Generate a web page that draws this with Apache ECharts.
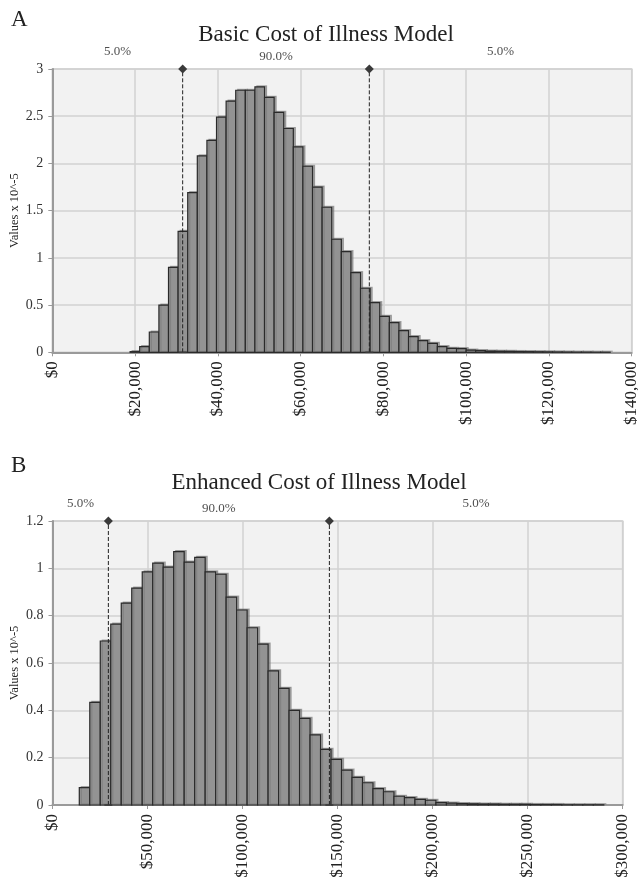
<!DOCTYPE html>
<html><head><meta charset="utf-8">
<script src="https://cdn.jsdelivr.net/npm/echarts@6/dist/echarts.min.js"></script>
<style>html,body{margin:0;padding:0;background:#fff}#c{width:638px;height:882px}</style>
</head><body><div id="c"></div>
<script>
// ---- data ----
const panelLabels = ['A', 'B'];
const titles = ['Basic Cost of Illness Model', 'Enhanced Cost of Illness Model'];
const yAxisName = 'Values x 10^-5';
const pctLabels = ['5.0%', '90.0%', '5.0%'];

// Panel A histogram (values x 10^-5)
const binStartA = 18800;
const binWidthA = 2320;
const valuesA = [0.007, 0.06, 0.215, 0.50, 0.90, 1.28, 1.69, 2.08, 2.245, 2.49,
  2.66, 2.775, 2.775, 2.81, 2.70, 2.54, 2.37, 2.175, 1.97, 1.75,
  1.536, 1.197, 1.066, 0.843, 0.678, 0.525, 0.38, 0.314, 0.229, 0.166,
  0.123, 0.095, 0.06, 0.042, 0.038, 0.024, 0.017, 0.013, 0.011, 0.01,
  0.008, 0.007, 0.006, 0.005, 0.004, 0.003, 0.002, 0.002, 0.001, 0.001];
const cutsA = [31500, 76600];
const xMaxA = 140000, xStepA = 20000;
const yMaxA = 3, yStepA = 0.5;

// Panel B histogram (values x 10^-5)
const binStartB = 14100;
const binWidthB = 5520;
const valuesB = [0.073, 0.434, 0.693, 0.764, 0.853, 0.916, 0.985, 1.022, 1.005, 1.071,
  1.026, 1.046, 0.985, 0.975, 0.878, 0.824, 0.749, 0.68, 0.567, 0.493,
  0.40, 0.366, 0.296, 0.235, 0.193, 0.147, 0.117, 0.094, 0.069, 0.056,
  0.037, 0.031, 0.024, 0.02, 0.01, 0.008, 0.006, 0.005, 0.004, 0.004,
  0.003, 0.003, 0.003, 0.002, 0.002, 0.002, 0.001, 0.001, 0.001, 0.001];
const cutsB = [29400, 145700];
const xMaxB = 300000, xStepB = 50000;
const yMaxB = 1.2, yStepB = 0.2;

// ---- chart ----
const SERIF = '"Liberation Serif", "DejaVu Serif", serif';
const chart = echarts.init(document.getElementById('c'), null, {renderer: 'canvas'});

function binData(start, width, vals) {
  return vals.map((v, i) => [start + i * width, start + (i + 1) * width, v]);
}
function histRender(params, api) {
  const p0 = api.coord([api.value(0), api.value(2)]);
  const p1 = api.coord([api.value(1), 0]);
  return {
    type: 'rect',
    shape: {x: p0[0], y: p0[1], width: p1[0] - p0[0], height: p1[1] - p0[1]},
    style: {fill: '#939393', stroke: '#2a2a2a', lineWidth: 1.2,
      shadowColor: 'rgba(120,120,120,0.6)', shadowOffsetX: 2, shadowOffsetY: -1, shadowBlur: 0}
  };
}
function xAxisCfg(gi, max, step) {
  return {
    type: 'value', gridIndex: gi, min: 0, max: max, interval: step,
    axisLine: {show: true, onZero: false, lineStyle: {color: '#9a9a9a', width: 2}},
    axisTick: {show: true, length: 4, lineStyle: {color: '#9a9a9a'}},
    axisLabel: {rotate: 90, fontFamily: SERIF, fontSize: 17, color: '#222', margin: 9,
      showMinLabel: true, showMaxLabel: true, hideOverlap: false,
      formatter: v => '$' + Number(v).toLocaleString('en-US')},
    splitLine: {show: true, lineStyle: {color: '#d2d2d2', width: 1.5}}
  };
}
function yAxisCfg(gi, max, step) {
  return {
    type: 'value', gridIndex: gi, min: 0, max: max, interval: step,
    name: yAxisName, nameLocation: 'middle', nameGap: 31, nameRotate: 90,
    nameMoveOverlap: false,
    nameTextStyle: {fontFamily: SERIF, fontSize: 12.5, color: '#222'},
    axisLine: {show: true, lineStyle: {color: '#9a9a9a', width: 2}},
    axisTick: {show: true, length: 4, lineStyle: {color: '#9a9a9a'}},
    axisLabel: {fontFamily: SERIF, fontSize: 14, color: '#333', margin: 9,
      showMinLabel: true, showMaxLabel: true},
    splitLine: {show: true, lineStyle: {color: '#d2d2d2', width: 1.5}}
  };
}
function cutSeries(gi, cuts, ymax) {
  return cuts.map(c => ({
    type: 'line', xAxisIndex: gi, yAxisIndex: gi, z: 5, silent: true,
    lineStyle: {type: 'dashed', color: '#222', width: 1},
    itemStyle: {color: '#3a3a3a'},
    data: [
      {value: [c, 0], symbol: 'rect', symbolSize: [8, 1.5]},
      {value: [c, ymax], symbol: 'diamond', symbolSize: 9}
    ],
    animation: false
  }));
}
function pctSeries(gi, cuts, xmax, ymax) {
  const bounds = [0, cuts[0], cuts[1], xmax];
  return pctLabels.map((t, i) => ({
    type: 'scatter', xAxisIndex: gi, yAxisIndex: gi, silent: true, z: 6,
    symbolSize: 1, itemStyle: {color: 'rgba(0,0,0,0)'},
    data: [[(bounds[i] + bounds[i + 1]) / 2, ymax]],
    label: {show: true, formatter: t, position: 'top', distance: i === 1 ? 5.5 : 10.5,
      fontFamily: SERIF, fontSize: 13, color: '#222'},
    animation: false
  }));
}

const option = {
  backgroundColor: '#ffffff',
  animation: false,
  grid: [
    {left: 52.3, top: 69, width: 579.4, height: 283.3, show: true, containLabel: false,
      outerBoundsMode: 'none',
      backgroundColor: '#f2f2f2', borderColor: '#cfcfcf', borderWidth: 1.5},
    {left: 52.5, top: 521, width: 570.1, height: 284, show: true, containLabel: false,
      outerBoundsMode: 'none',
      backgroundColor: '#f2f2f2', borderColor: '#cfcfcf', borderWidth: 1.5}
  ],
  xAxis: [xAxisCfg(0, xMaxA, xStepA), xAxisCfg(1, xMaxB, xStepB)],
  yAxis: [yAxisCfg(0, yMaxA, yStepA), yAxisCfg(1, yMaxB, yStepB)],
  graphic: [
    {type: 'text', left: 11, top: 8, style: {text: panelLabels[0], font: '23px ' + SERIF, fill: '#222'}},
    {type: 'text', x: 326, y: 35, style: {text: titles[0], font: '23px ' + SERIF, fill: '#222', textAlign: 'center', textVerticalAlign: 'middle'}},
    {type: 'text', left: 11, top: 454, style: {text: panelLabels[1], font: '23px ' + SERIF, fill: '#222'}},
    {type: 'text', x: 319, y: 483, style: {text: titles[1], font: '23px ' + SERIF, fill: '#222', textAlign: 'center', textVerticalAlign: 'middle'}}
  ],
  series: [
    {type: 'custom', xAxisIndex: 0, yAxisIndex: 0, renderItem: histRender,
      encode: {x: [0, 1], y: 2}, data: binData(binStartA, binWidthA, valuesA), z: 3},
    {type: 'custom', xAxisIndex: 1, yAxisIndex: 1, renderItem: histRender,
      encode: {x: [0, 1], y: 2}, data: binData(binStartB, binWidthB, valuesB), z: 3},
    ...cutSeries(0, cutsA, yMaxA),
    ...cutSeries(1, cutsB, yMaxB),
    ...pctSeries(0, cutsA, xMaxA, yMaxA),
    ...pctSeries(1, cutsB, xMaxB, yMaxB)
  ]
};
chart.setOption(option);
</script>
</body></html>
